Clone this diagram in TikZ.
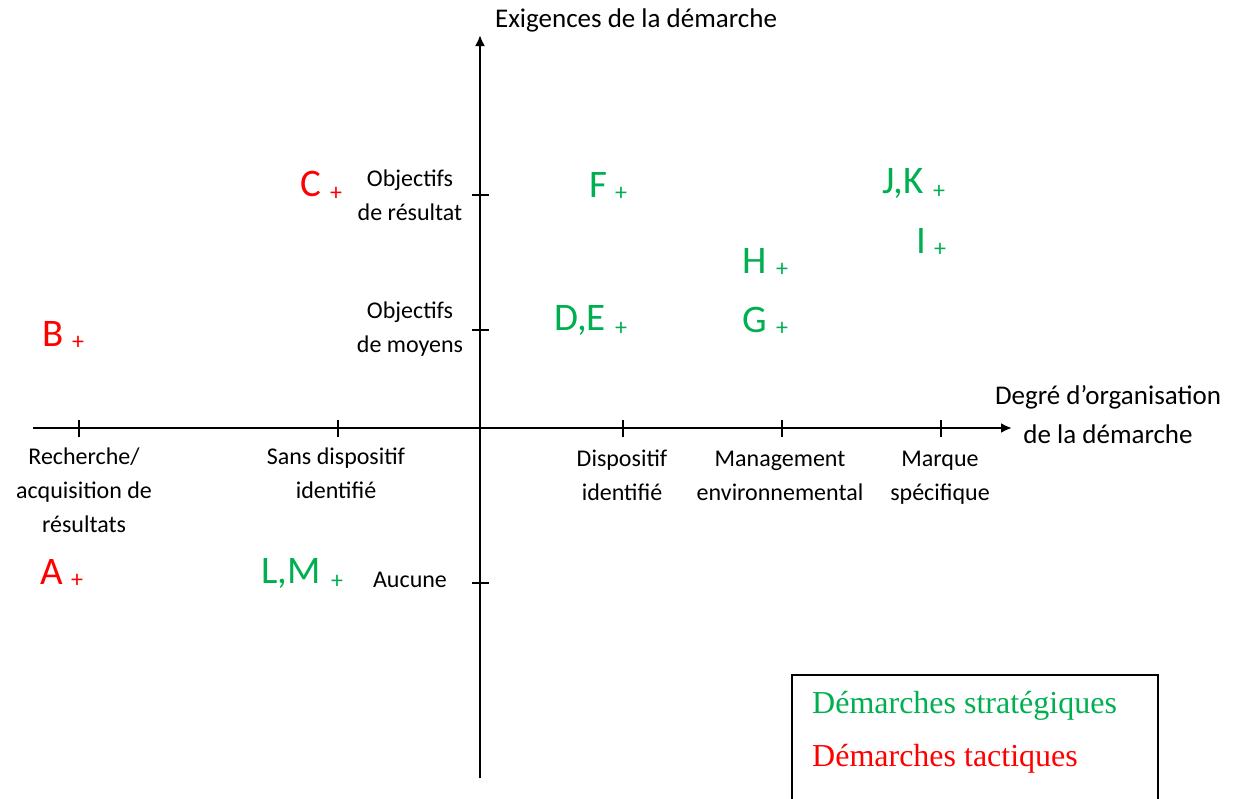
\documentclass[tikz,border=0pt]{standalone}
\usepackage{fontspec}
\setmainfont{Carlito}
\newfontfamily\legendfont{Liberation Serif}
\usetikzlibrary{arrows.meta}
\definecolor{offgreen}{RGB}{0,176,80}
\definecolor{offred}{RGB}{255,0,0}
\begin{document}
\begin{tikzpicture}[x=1pt,y=-1pt,
  axisline/.style={line width=2.3pt,black},
  axisarrow/.style={axisline,-{Latex[length=11pt,width=10pt]}},
  tick/.style={line width=2pt,black},
  lbl/.style={font=\fontsize{24}{34}\selectfont,align=center,inner sep=0pt},
  ttl/.style={font=\fontsize{27}{39}\selectfont,align=center,inner sep=0pt},
  letter/.style={font=\fontsize{39}{44}\selectfont,inner sep=0pt},
  plusmark/.style={font=\fontsize{24}{28}\selectfont,inner sep=0pt},
  strat/.style={text=offgreen},
  tact/.style={text=offred},
  legtext/.style={font=\legendfont\fontsize{32}{38}\selectfont,inner sep=0pt,anchor=west}]
\useasboundingbox (0,0) rectangle (1234,798);
% axes
\coordinate (xs) at (33,428);
\coordinate (xe) at (1012,428);
\coordinate (ys) at (480,778);
\coordinate (ye) at (480,35);
\draw[axisarrow] (xs) -- (xe);
\draw[axisarrow] (ys) -- (ye);
% x ticks
\foreach \n/\x in {t1/79,t2/338,t3/623,t4/782,t5/941}{
  \coordinate (\n a) at (\x,420);
  \coordinate (\n b) at (\x,437);
  \draw[tick] (\n a) -- (\n b);
}
% y ticks
\foreach \n/\y in {u1/195,u2/330,u3/583}{
  \coordinate (\n a) at (472,\y);
  \coordinate (\n b) at (489,\y);
  \draw[tick] (\n a) -- (\n b);
}
% axis titles
\node[ttl] (ytitle) at (636,20) {Exigences de la démarche};
\node[ttl] (xtitle) at (1108,416) {\strut Degré d’organisation\\\strut de la démarche};
% x labels
\node[lbl] (lx1) at (84,492) {\strut Recherche/\\\strut acquisition de\\\strut résultats};
\node[lbl] (lx2) at (336,475) {\strut Sans dispositif\\\strut identifié};
\node[lbl] (lx3) at (622,477) {\strut Dispositif\\\strut identifié};
\node[lbl] (lx4) at (780,477) {\strut Management\\\strut environnemental};
\node[lbl] (lx5) at (940,477) {\strut Marque\\\strut spécifique};
% y labels
\node[lbl] (ly1) at (410,197) {\strut Objectifs\\\strut de résultat};
\node[lbl] (ly2) at (410,329) {\strut Objectifs\\\strut de moyens};
\node[lbl] (ly3) at (410,580) {Aucune};
% points
\node[letter,tact] (C) at (311,184) {C};
\node[plusmark,tact] (pC) at (336,194) {+};
\node[letter,tact] (B) at (53,334) {B};
\node[plusmark,tact] (pB) at (78,343) {+};
\node[letter,tact] (A) at (52,572) {A};
\node[plusmark,tact] (pA) at (77,581) {+};
\node[letter,strat] (LM) at (291,573) {L,M};
\node[plusmark,strat] (pLM) at (337,582) {+};
\node[letter,strat] (F) at (598,185) {F};
\node[plusmark,strat] (pF) at (621,194) {+};
\node[letter,strat] (DE) at (580,320) {D,E};
\node[plusmark,strat] (pDE) at (621,329) {+};
\node[letter,strat] (H) at (755,261) {H};
\node[plusmark,strat] (pH) at (782,270) {+};
\node[letter,strat] (G) at (755,320) {G};
\node[plusmark,strat] (pG) at (782,329) {+};
\node[letter,strat] (JK) at (903,183) {J,K};
\node[plusmark,strat] (pJK) at (939,192) {+};
\node[letter,strat] (I) at (921,241) {I};
\node[plusmark,strat] (pI) at (940,250) {+};
% legend
\draw[line width=1.5pt] (792,812) -- (792,675) -- (1158,675) -- (1158,812);
\node[legtext,text=offgreen] (leg1) at (812,706) {Démarches stratégiques};
\node[legtext,text=offred] (leg2) at (812,759) {Démarches tactiques};
\end{tikzpicture}
\end{document}
